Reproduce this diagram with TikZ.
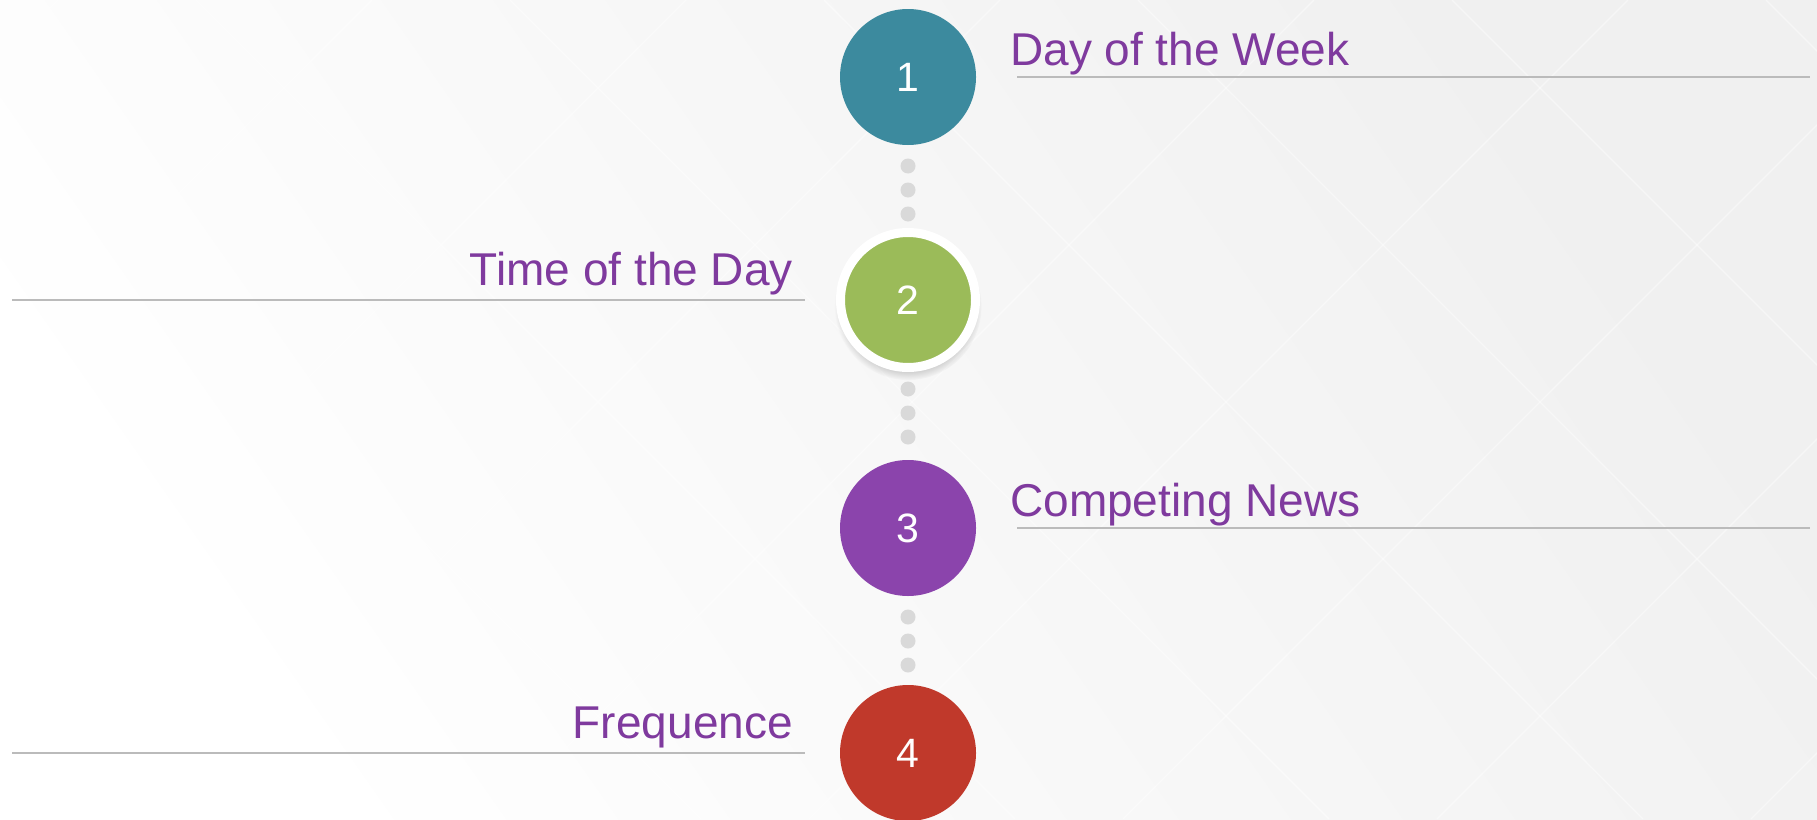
\documentclass[tikz,border=0pt]{standalone}
\usepackage{fontspec}
\setmainfont{Liberation Sans}
\usetikzlibrary{positioning,shadows,calc}
\definecolor{weekc}{HTML}{3C8A9E}
\definecolor{hourc}{HTML}{9BBB59}
\definecolor{newsc}{HTML}{8B44AC}
\definecolor{freqc}{HTML}{C0392B}
\definecolor{labelc}{HTML}{7F3A9E}
\definecolor{rulec}{HTML}{BBBBBB}
\definecolor{dotc}{HTML}{D9D9D9}
\newcommand{\week}{weekc}
\newcommand{\hour}{hourc}
\newcommand{\news}{newsc}
\newcommand{\freq}{freqc}
\tikzset{
  stage/.style={circle, minimum size=136pt, inner sep=0pt, text=white,
    font=\fontsize{41}{41}\selectfont},
  label text/.style={text=labelc, inner sep=0pt, font=\fontsize{46}{50}\selectfont},
  rule/.style={draw=rulec, line width=2.5pt},
  gap dot/.style={fill=dotc},
  lattice/.style={draw=white, line width=1.2pt, opacity=.45}
}

\begin{document}
\begin{tikzpicture}[x=1pt, y=-1pt]
        \useasboundingbox (0,0) rectangle (1817,819);
        % backdrop with the faint diamond pattern
        \shade[left color=white, middle color=white, right color=black!6, shading angle=125]
          (0,0) rectangle (1817,819);
        \begin{scope}
          \clip (0,0) rectangle (1817,819);
          \foreach \c in {58,372,...,2884} \draw[lattice] (\c,0) -- ++(-819,819);
          \foreach \c in {-746,-432,...,1766} \draw[lattice] (\c,0) -- ++(819,819);
        \end{scope}
        % margins and gutters of the rules
        \coordinate (lm) at (12,0);
        \coordinate (lg) at (805,0);
        \coordinate (rg) at (1017,0);
        \coordinate (rm) at (1810,0);
        % the four stages
        \node[stage, fill=\week] (1) at (908,77) {1};
        \node[stage, fill=\hour, draw=white, line width=9pt, minimum size=135pt,
          circular drop shadow={shadow xshift=0pt, shadow yshift=-6pt, shadow scale=1.09, opacity=.4}]
          (2) at (908,300) {2};
        \node[stage, fill=\news] (3) at (908,528) {3};
        \node[stage, fill=\freq] (4) at (908,753) {4};
        % dotted links
        \foreach \a in {1,2,3}
          \foreach \d in {89,113,137}
            \fill[gap dot] ($(\a.center)+(0,\d)$) circle (7.5pt);
        % labels, right side
        \draw[rule] (rg |- 1) -- (rm |- 1);
        \node[label text, anchor=base west] (t1) at ($(rg |- 1)+(-7,-12)$) {Day of the Week};
        \draw[rule] (rg |- 3) -- (rm |- 3);
        \node[label text, anchor=base west] (t3) at ($(rg |- 3)+(-7,-12)$) {Competing News};
        % labels, left side
        \draw[rule] (lm |- 2) -- (lg |- 2);
        \node[label text, anchor=base east] (t2) at ($(lg |- 2)+(-12,-15)$) {Time of the Day};
        \draw[rule] (lm |- 4) -- (lg |- 4);
        \node[label text, anchor=base east] (t4) at ($(lg |- 4)+(-12,-15)$) {Frequence};
    \end{tikzpicture}
\end{document}
